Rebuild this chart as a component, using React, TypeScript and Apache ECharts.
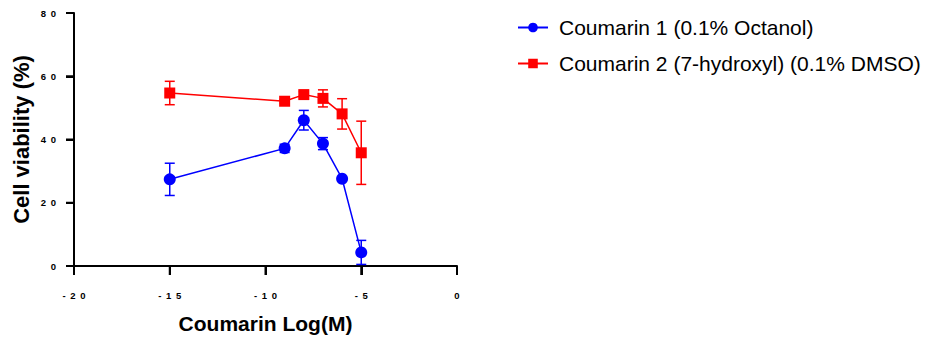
import React, { useEffect, useRef } from "react";
import * as echarts from "echarts";

const xValues = [-15, -9, -8, -7, -6, -5];
const coumarin1 = [27.4, 37.2, 46.1, 38.7, 27.6, 4.3];
const coumarin1Err = [5.1, 1.3, 3.1, 1.9, 0.5, 3.8];
const coumarin2 = [54.7, 52.1, 54.2, 53.0, 48.1, 35.8];
const coumarin2Err = [3.7, 0.6, 1.0, 2.7, 4.8, 10.0];
const xTicks = [-20, -15, -10, -5, 0];
const yTicks = [0, 20, 40, 60, 80];
const seriesNames = ["Coumarin 1 (0.1% Octanol)", "Coumarin 2 (7-hydroxyl) (0.1% DMSO)"];
const BLUE = "#0000ff";
const RED = "#ff0000";

const spaced = (v: number) => String(v).split("").join("\u2002");

function errorSeries(vals: number[], errs: number[], color: string) {
  return {
    type: "custom",
    silent: true,
    z: 1,
    data: xValues.map((x, i) => [x, vals[i] - errs[i], vals[i] + errs[i]]),
    renderItem: (params: any, api: any) => {
      const x = api.value(0);
      const lo = api.coord([x, api.value(1)]);
      const hi = api.coord([x, api.value(2)]);
      const w = 5;
      const style = { stroke: color, lineWidth: 1.5, fill: "none" };
      return {
        type: "group",
        children: [
          { type: "line", shape: { x1: lo[0], y1: lo[1], x2: hi[0], y2: hi[1] }, style },
          { type: "line", shape: { x1: lo[0] - w, y1: lo[1], x2: lo[0] + w, y2: lo[1] }, style },
          { type: "line", shape: { x1: hi[0] - w, y1: hi[1], x2: hi[0] + w, y2: hi[1] }, style },
        ],
      };
    },
  };
}

function tickSeries(axis: "x" | "y", ticks: number[], len: number) {
  return {
    type: "custom",
    silent: true,
    clip: false,
    z: 5,
    data: ticks.map((t) => (axis === "x" ? [t, 0] : [-20, t])),
    renderItem: (params: any, api: any) => {
      const p = api.coord([api.value(0), api.value(1)]);
      const shape =
        axis === "x"
          ? { x1: p[0], y1: p[1], x2: p[0], y2: p[1] + len }
          : { x1: p[0] - len, y1: p[1], x2: p[0], y2: p[1] };
      return { type: "line", shape, style: { stroke: "#000", lineWidth: 2 } };
    },
  };
}

export default function App() {
  const ref = useRef<HTMLDivElement>(null);
  useEffect(() => {
    if (!ref.current) return;
    const chart = echarts.init(ref.current, null, { renderer: "svg" });
    const labelStyle = { fontFamily: "Liberation Sans, Arial", fontWeight: "bold", fontSize: 9.5, color: "#000" };
    chart.setOption({
      animation: false,
      backgroundColor: "#fff",
      grid: { left: 74, right: 469, top: 13, bottom: 72, containLabel: false },
      legend: {
        orient: "vertical",
        left: 512,
        top: 12,
        itemWidth: 30,
        itemHeight: 12,
        itemGap: 15,
        data: seriesNames,
        textStyle: { fontFamily: "Liberation Sans, Arial", fontSize: 21, color: "#000", padding: [0, 0, 0, 6] },
      },
      xAxis: {
        type: "value",
        min: -20,
        max: 0,
        interval: 5,
        name: "Coumarin Log(M)",
        nameLocation: "middle",
        nameGap: 47,
        nameTextStyle: { fontFamily: "Liberation Sans, Arial", fontWeight: "bold", fontSize: 21, color: "#000" },
        axisLine: { show: true, onZero: false, lineStyle: { color: "#000", width: 2 } },
        axisTick: { show: true, length: 9, lineStyle: { color: "#000", width: 2 } },
        axisLabel: { ...labelStyle, margin: 24, formatter: spaced },
        splitLine: { show: false },
      },
      yAxis: {
        type: "value",
        min: 0,
        max: 80,
        interval: 20,
        name: "Cell viability (%)",
        nameLocation: "middle",
        nameGap: 42,
        nameTextStyle: { fontFamily: "Liberation Sans, Arial", fontWeight: "bold", fontSize: 22, color: "#000" },
        axisLine: { show: true, onZero: false, lineStyle: { color: "#000", width: 2 } },
        axisTick: { show: true, length: 8, lineStyle: { color: "#000", width: 2 } },
        axisLabel: { ...labelStyle, margin: 18, formatter: spaced },
        splitLine: { show: false },
      },
      series: [
        tickSeries("x", xTicks, 9),
        tickSeries("y", yTicks, 8),
        errorSeries(coumarin1, coumarin1Err, BLUE),
        errorSeries(coumarin2, coumarin2Err, RED),
        {
          name: seriesNames[0],
          type: "line",
          z: 3,
          data: xValues.map((x, i) => [x, coumarin1[i]]),
          symbol: "circle",
          symbolSize: 12,
          itemStyle: { color: BLUE },
          lineStyle: { color: BLUE, width: 1.5 },
        },
        {
          name: seriesNames[1],
          type: "line",
          z: 3,
          data: xValues.map((x, i) => [x, coumarin2[i]]),
          symbol: "rect",
          symbolSize: 11,
          itemStyle: { color: RED },
          lineStyle: { color: RED, width: 1.5 },
        },
      ],
    });
    return () => chart.dispose();
  }, []);
  return <div ref={ref} style={{ width: 926, height: 339, position: "absolute", left: 0, top: 0 }} />;
}
